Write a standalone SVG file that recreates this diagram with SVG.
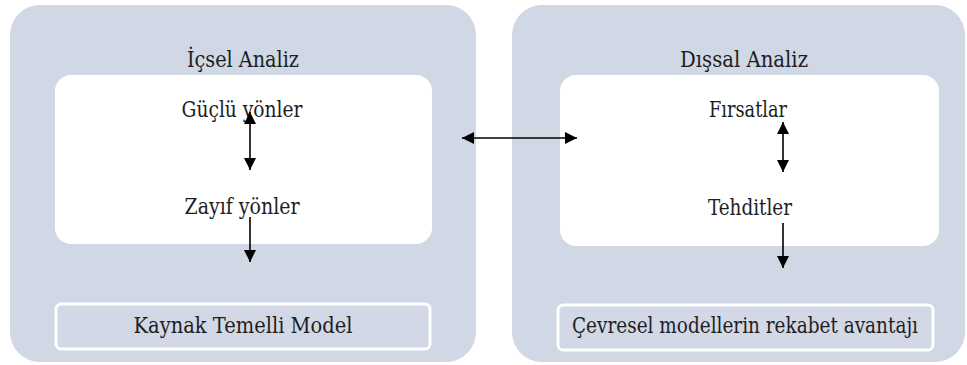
<svg xmlns="http://www.w3.org/2000/svg" width="967" height="365" viewBox="0 0 967 365">
  <style>
    .panel { fill: #d0d7e5; }
    .inner { fill: #ffffff; }
    .model { fill: #d2d8e6; stroke: #ffffff; stroke-width: 3; }
    .lbl { font-family: 'DejaVu Serif Condensed', 'DejaVu Serif', serif; font-size: 22px; fill: #1e1e1e; text-anchor: middle; }
    .conn { stroke: #000000; stroke-width: 1.6; fill: none; }
  </style>
  <defs>
    <marker id="head" viewBox="0 0 12 12" refX="12" refY="6" markerWidth="12" markerHeight="12" markerUnits="userSpaceOnUse" orient="auto-start-reverse">
      <path d="M0,0 L12,6 L0,12 Z" fill="#000000"/>
    </marker>
  </defs>

  <!-- Internal analysis panel -->
  <g id="internal">
    <rect class="panel" x="10" y="5" width="466" height="357" rx="30"/>
    <text class="lbl" x="243" y="67" textLength="112" lengthAdjust="spacingAndGlyphs">İçsel Analiz</text>
    <rect class="inner" x="55" y="75" width="377" height="169" rx="16"/>
    <g id="strengths"><text class="lbl" x="242" y="117" textLength="121" lengthAdjust="spacingAndGlyphs">Güçlü yönler</text></g>
    <g id="weaknesses"><text class="lbl" x="242" y="214" textLength="115" lengthAdjust="spacingAndGlyphs">Zayıf yönler</text></g>
    <g id="resource-model">
      <rect class="model" x="56" y="304" width="374" height="45" rx="5"/>
      <text class="lbl" x="243" y="333" textLength="219" lengthAdjust="spacingAndGlyphs">Kaynak Temelli Model</text>
    </g>
  </g>

  <!-- External analysis panel -->
  <g id="external">
    <rect class="panel" x="512" y="5" width="453" height="357" rx="30"/>
    <text class="lbl" x="744" y="67" textLength="128" lengthAdjust="spacingAndGlyphs">Dışsal Analiz</text>
    <rect class="inner" x="560" y="75" width="379" height="171" rx="16"/>
    <g id="opportunities"><text class="lbl" x="748" y="117" textLength="78" lengthAdjust="spacingAndGlyphs">Fırsatlar</text></g>
    <g id="threats"><text class="lbl" x="750" y="215" textLength="84" lengthAdjust="spacingAndGlyphs">Tehditler</text></g>
    <g id="competitive-model">
      <rect class="model" x="558" y="305" width="375" height="45" rx="5"/>
      <text class="lbl" x="745" y="333" textLength="346" lengthAdjust="spacingAndGlyphs">Çevresel modellerin rekabet avantajı</text>
    </g>
  </g>

  <!-- Connectors -->
  <g id="connectors">
    <line class="conn" x1="462" y1="138" x2="577" y2="138" marker-start="url(#head)" marker-end="url(#head)"/>
    <line class="conn" x1="250" y1="112" x2="250" y2="170" marker-start="url(#head)" marker-end="url(#head)"/>
    <line class="conn" x1="250" y1="217" x2="250" y2="262" marker-end="url(#head)"/>
    <line class="conn" x1="783" y1="122" x2="783" y2="172" marker-start="url(#head)" marker-end="url(#head)"/>
    <line class="conn" x1="783" y1="223" x2="783" y2="268" marker-end="url(#head)"/>
  </g>
</svg>
